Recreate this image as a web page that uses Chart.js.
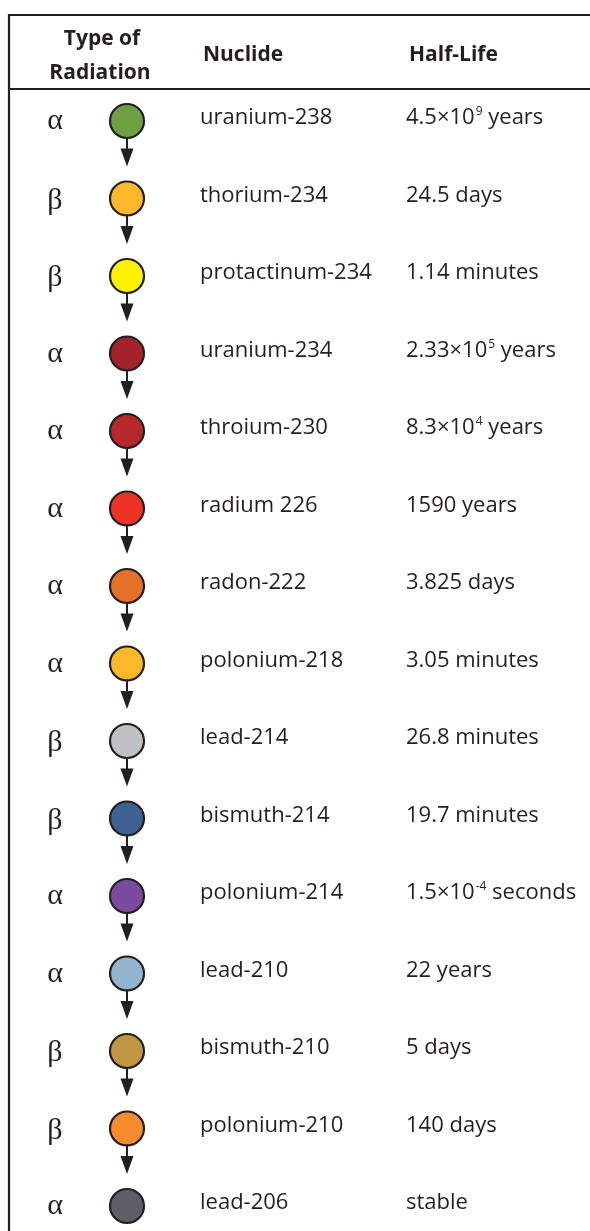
<!DOCTYPE html>
<html>
<head>
<meta charset="utf-8">
<script src="https://cdn.jsdelivr.net/npm/chart.js@4.4.1/dist/chart.umd.min.js"></script>
<style>
  html, body { margin: 0; padding: 0; background: #fff; }
  #wrap { width: 590px; height: 1231px; }
</style>
</head>
<body>
<div id="wrap"><canvas id="chart" width="590" height="1231"></canvas></div>
<script>
// Uranium-238 decay series, top to bottom
const nuclides = [
  "uranium-238", "thorium-234", "protactinum-234", "uranium-234",
  "throium-230", "radium 226", "radon-222", "polonium-218",
  "lead-214", "bismuth-214", "polonium-214", "lead-210",
  "bismuth-210", "polonium-210", "lead-206",
];
const radiation = [
  "α", "β", "β", "α", "α", "α", "α", "α",
  "β", "β", "α", "α", "β", "β", "α",
];
// "^" marks the superscript exponent
const halfLives = [
  "4.5×10^9 years", "24.5 days", "1.14 minutes", "2.33×10^5 years",
  "8.3×10^4 years", "1590 years", "3.825 days", "3.05 minutes",
  "26.8 minutes", "19.7 minutes", "1.5×10^-4 seconds", "22 years",
  "5 days", "140 days", "stable",
];
const nuclideColors = [
  "#6da043", "#fdb82a", "#fff200", "#a4232a",
  "#b5292d", "#ec3326", "#e5702a", "#fdb82a",
  "#bfc0c3", "#3d6193", "#7b4a9d", "#93b4cf",
  "#c09642", "#f68c2e", "#5f5e66",
];
const headers = ["Type of\nRadiation", "Nuclide", "Half-Life"];

// column layout (pixels along the x scale)
const COL_TYPE = 55;
const COL_MARK = 127;
const COL_NUCLIDE = 200;
const COL_HALF = 406;
const INK = "#231f20";

const tablePlugin = {
  id: "table",
  afterDatasetsDraw(chart) {
    const { ctx, scales } = chart;
    const pts = chart.getDatasetMeta(0).data;
    ctx.save();

    // frame: top rule, header rule, left rule
    ctx.strokeStyle = INK;
    ctx.lineWidth = 2.2;
    ctx.beginPath();
    ctx.moveTo(9, 15); ctx.lineTo(590, 15);
    ctx.moveTo(9, 89); ctx.lineTo(590, 89);
    ctx.moveTo(9, 14); ctx.lineTo(9, 1231);
    ctx.stroke();

    // headers
    ctx.fillStyle = INK;
    ctx.font = "bold 21px 'Open Sans'";
    ctx.textBaseline = "alphabetic";
    ctx.textAlign = "center";
    const typeLines = headers[0].split("\n");
    ctx.fillText(typeLines[0], 102, 45);
    ctx.fillText(typeLines[1], 100, 79);
    ctx.textAlign = "left";
    ctx.fillText(headers[1], 203, 61);
    ctx.fillText(headers[2], 409, 61);

    // arrows between consecutive nuclides
    for (let i = 0; i < pts.length - 1; i++) {
      const x = pts[i].x;
      const y = pts[i].y;
      ctx.strokeStyle = INK;
      ctx.lineWidth = 2;
      ctx.beginPath();
      ctx.moveTo(x, y + 16);
      ctx.lineTo(x, y + 30);
      ctx.stroke();
      ctx.beginPath();
      ctx.moveTo(x - 6.5, y + 27.5);
      ctx.lineTo(x + 6.5, y + 27.5);
      ctx.lineTo(x, y + 45.5);
      ctx.closePath();
      ctx.fill();
    }

    // row texts
    nuclides.forEach((name, i) => {
      const y = scales.y.getPixelForValue(i);
      ctx.fillStyle = INK;
      ctx.textAlign = "center";
      ctx.font = "30px 'Liberation Serif'";
      ctx.fillText(radiation[i], COL_TYPE, y + (radiation[i] === "β" ? 10 : 8));

      ctx.textAlign = "left";
      ctx.font = "22px 'Open Sans'";
      ctx.fillText(name, COL_NUCLIDE, y + 3);

      const m = halfLives[i].match(/^(.*?)\^(\S+)(.*)$/);
      if (m) {
        ctx.fillText(m[1], COL_HALF, y + 3);
        let xx = COL_HALF + ctx.measureText(m[1]).width + 1;
        ctx.font = "12px 'Open Sans'";
        ctx.fillText(m[2], xx, y - 6);
        xx += ctx.measureText(m[2]).width;
        ctx.font = "22px 'Open Sans'";
        ctx.fillText(m[3], xx, y + 3);
      } else {
        ctx.fillText(halfLives[i], COL_HALF, y + 3);
      }
    });
    ctx.restore();
  },
};

new Chart(document.getElementById("chart"), {
  type: "scatter",
  data: {
    datasets: [{
      data: nuclides.map((n, i) => ({ x: COL_MARK, y: i })),
      clip: false,
      pointRadius: 17,
      pointHoverRadius: 17,
      pointBackgroundColor: nuclideColors,
      pointBorderColor: INK,
      pointBorderWidth: 2.2,
      pointHoverBorderWidth: 2.2,
    }],
  },
  options: {
    responsive: false,
    animation: false,
    events: [],
    layout: { autoPadding: false, padding: { top: 121, bottom: 25, left: 0, right: 0 } },
    plugins: { legend: { display: false }, tooltip: { enabled: false } },
    scales: {
      x: { type: "linear", min: 0, max: 590, display: false },
      y: { type: "linear", min: 0, max: nuclides.length - 1, reverse: true, display: false },
    },
  },
  plugins: [tablePlugin],
});
</script>
</body>
</html>
